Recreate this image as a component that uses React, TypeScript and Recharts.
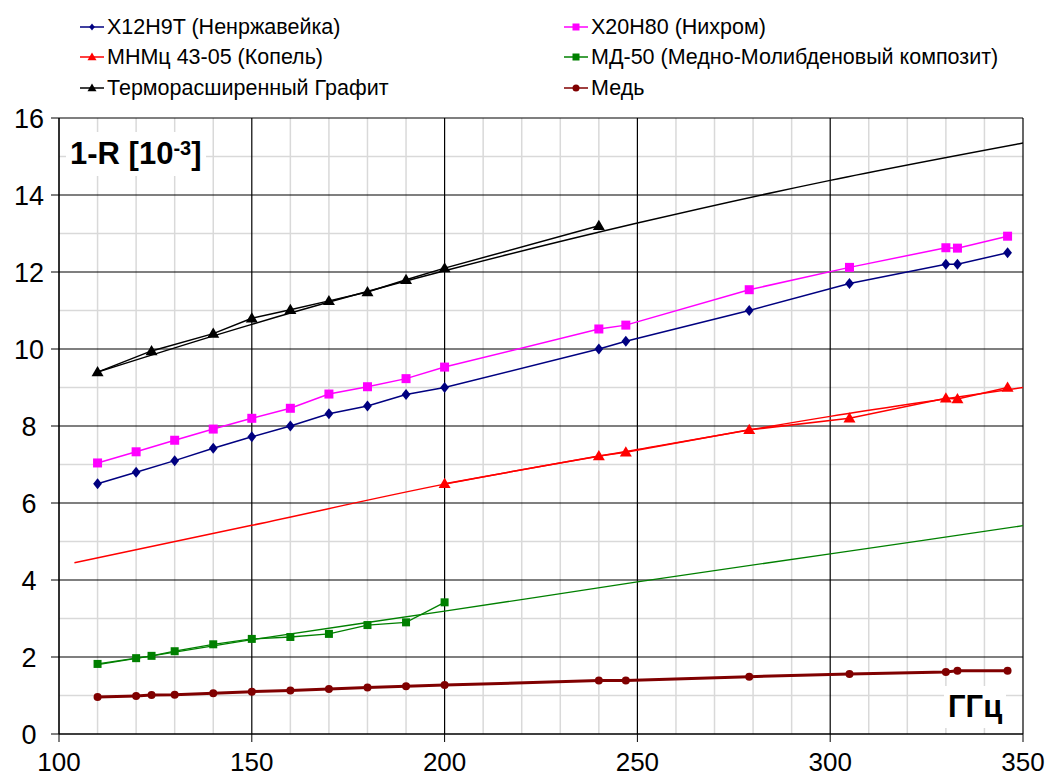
import { LineChart, Line, XAxis, YAxis, CartesianGrid } from "recharts";

// частоты, ГГц
const freqSteel = [110, 120, 130, 140, 150, 160, 170, 180, 190, 200, 240, 247, 279, 305, 330, 333, 346];
const valSteel = [6.5, 6.8, 7.1, 7.42, 7.72, 8.0, 8.32, 8.52, 8.82, 9.0, 10.0, 10.2, 11.0, 11.7, 12.2, 12.2, 12.5];
const valNichrome = [7.04, 7.33, 7.63, 7.92, 8.2, 8.46, 8.83, 9.02, 9.23, 9.53, 10.52, 10.62, 11.54, 12.12, 12.63, 12.62, 12.93];

const freqKopel = [200, 240, 247, 279, 305, 330, 333, 346];
const valKopel = [6.5, 7.22, 7.32, 7.9, 8.2, 8.72, 8.7, 9.0];
const freqKopelTrend = [104, 150, 200, 250, 300, 350];
const valKopelTrend = [4.45, 5.42, 6.49, 7.39, 8.25, 9.0];

const freqGraphite = [110, 124, 140, 150, 160, 170, 180, 190, 200, 240];
const valGraphite = [9.4, 9.95, 10.4, 10.8, 11.02, 11.25, 11.48, 11.8, 12.1, 13.2];
const freqGraphiteTrend = [110, 150, 200, 250, 300, 350];
const valGraphiteTrend = [9.4, 10.64, 12.03, 13.27, 14.38, 15.35];

const freqMd = [110, 120, 124, 130, 140, 150, 160, 170, 180, 190, 200];
const valMd = [1.82, 1.97, 2.03, 2.15, 2.33, 2.47, 2.52, 2.6, 2.83, 2.9, 3.42];
const freqMdTrend = [110, 150, 200, 250, 300, 350];
const valMdTrend = [1.8, 2.45, 3.19, 3.95, 4.68, 5.41];

const freqCopper = [110, 120, 124, 130, 140, 150, 160, 170, 180, 190, 200, 240, 247, 279, 305, 330, 333, 346];
const valCopper = [0.96, 0.99, 1.01, 1.02, 1.06, 1.1, 1.13, 1.17, 1.21, 1.24, 1.27, 1.39, 1.39, 1.49, 1.56, 1.61, 1.64, 1.64];

const xTicks = [100, 150, 200, 250, 300, 350];
const yTicks = [0, 2, 4, 6, 8, 10, 12, 14, 16];
const xMinor = [110, 120, 130, 140, 160, 170, 180, 190, 210, 220, 230, 240, 260, 270, 280, 290, 310, 320, 330, 340];
const yMinor = [1, 3, 5, 7, 9, 11, 13, 15];

const zip = (xs: number[], ys: number[]) => xs.map((x, i) => ({ x, y: ys[i] }));

const FONT = '"Liberation Sans", Arial, sans-serif';

const Diamond = ({ cx, cy, color, r = 5.5 }: any) => (
  <path d={`M${cx},${cy - r}L${cx + r * 0.8},${cy}L${cx},${cy + r}L${cx - r * 0.8},${cy}Z`} fill={color} />
);
const Square = ({ cx, cy, color, r = 4.5 }: any) => (
  <rect x={cx - r} y={cy - r} width={r * 2} height={r * 2} fill={color} />
);
const Triangle = ({ cx, cy, color, r = 6 }: any) => (
  <path d={`M${cx},${cy - r}L${cx + r},${cy + r * 0.7}L${cx - r},${cy + r * 0.7}Z`} fill={color} />
);
const Circle = ({ cx, cy, color, r = 4 }: any) => <circle cx={cx} cy={cy} r={r} fill={color} />;

const dotOf = (Shape: any, color: string, r?: number) => (p: any) =>
  <Shape key={p.index} cx={p.cx} cy={p.cy} color={color} r={r} />;

const legendItems = [
  { name: "X12H9T (Ненржавейка)", color: "#000080", Shape: Diamond },
  { name: "X20H80 (Нихром)", color: "#ff00ff", Shape: Square },
  { name: "МНМц 43-05 (Копель)", color: "#ff0000", Shape: Triangle },
  { name: "МД-50 (Медно-Молибденовый композит)", color: "#008000", Shape: Square },
  { name: "Терморасширенный Графит", color: "#000000", Shape: Triangle },
  { name: "Медь", color: "#800000", Shape: Circle },
];

const YTick = ({ x, y, payload }: any) => (
  <text x={x - 20} y={y} dy="0.36em" textAnchor="middle" fontSize={27} fill="#000" fontFamily={FONT}>
    {payload.value}
  </text>
);

export default function App() {
  return (
    <div style={{ position: "absolute", left: 0, top: 0, width: 1047, height: 778, background: "#fff", fontFamily: FONT }}>
      {/* легенда */}
      {legendItems.map((it, i) => {
        const col = i % 2;
        const row = Math.floor(i / 2);
        const left = col === 0 ? 79 : 563;
        const top = [27, 57, 88][row];
        return (
          <div key={it.name} style={{ position: "absolute", left, top: top - 12, height: 24, display: "flex", alignItems: "center", whiteSpace: "nowrap" }}>
            <svg width={26} height={24}>
              <line x1={1} y1={12} x2={25} y2={12} stroke={it.color} strokeWidth={1.5} />
              <it.Shape cx={13} cy={12} color={it.color} r={it.Shape === Triangle ? 4.5 : 3.5} />
            </svg>
            <span style={{ fontSize: 21.5, color: "#000", marginLeft: 2 }}>{it.name}</span>
          </div>
        );
      })}

      <LineChart width={1047} height={778} margin={{ top: 118, right: 24, bottom: 4, left: 9 }}>
        <CartesianGrid stroke="#d9d9d9" strokeWidth={1.5} verticalValues={xMinor} horizontalValues={yMinor} />
        <CartesianGrid stroke="#000" strokeWidth={1.2} verticalValues={xTicks} horizontalValues={yTicks} />
        <XAxis
          dataKey="x"
          type="number"
          domain={[100, 350]}
          ticks={xTicks}
          allowDataOverflow
          height={40}
          tickSize={8}
          tickMargin={11}
          stroke="#000"
          tick={{ fontSize: 26, fill: "#000", fontFamily: FONT }}
        />
        <YAxis
          type="number"
          domain={[0, 16]}
          ticks={yTicks}
          width={50}
          tickSize={8}
          stroke="#000"
          tick={<YTick />}
        />

        {/* линии тренда */}
        <Line data={zip(freqGraphiteTrend, valGraphiteTrend)} dataKey="y" type="monotone" stroke="#000" strokeWidth={1.5} dot={false} isAnimationActive={false} />
        <Line data={zip(freqKopelTrend, valKopelTrend)} dataKey="y" type="monotone" stroke="#ff0000" strokeWidth={1.5} dot={false} isAnimationActive={false} />
        <Line data={zip(freqMdTrend, valMdTrend)} dataKey="y" type="monotone" stroke="#008000" strokeWidth={1.3} dot={false} isAnimationActive={false} />

        {/* измерения */}
        <Line data={zip(freqSteel, valSteel)} dataKey="y" stroke="#000080" strokeWidth={1.5} dot={dotOf(Diamond, "#000080")} isAnimationActive={false} />
        <Line data={zip(freqSteel, valNichrome)} dataKey="y" stroke="#ff00ff" strokeWidth={1.5} dot={dotOf(Square, "#ff00ff")} isAnimationActive={false} />
        <Line data={zip(freqKopel, valKopel)} dataKey="y" stroke="#ff0000" strokeWidth={1.5} dot={dotOf(Triangle, "#ff0000")} isAnimationActive={false} />
        <Line data={zip(freqGraphite, valGraphite)} dataKey="y" stroke="#000" strokeWidth={1.5} dot={dotOf(Triangle, "#000")} isAnimationActive={false} />
        <Line data={zip(freqMd, valMd)} dataKey="y" stroke="#008000" strokeWidth={1.3} dot={dotOf(Square, "#008000", 4)} isAnimationActive={false} />
        <Line data={zip(freqCopper, valCopper)} dataKey="y" stroke="#800000" strokeWidth={3} dot={dotOf(Circle, "#800000")} isAnimationActive={false} />
      </LineChart>

      {/* подписи осей */}
      <div style={{ position: "absolute", left: 66, top: 132, padding: "2px 4px", background: "#fff", fontWeight: "bold", fontSize: 31, lineHeight: "40px", color: "#000" }}>
        1-R [10<sup style={{ fontSize: 20, verticalAlign: "top", lineHeight: "28px" }}>-3</sup>]
      </div>
      <div style={{ position: "absolute", left: 944, top: 686, padding: "0 4px", background: "#fff", fontWeight: "bold", fontSize: 31, lineHeight: "42px", color: "#000" }}>
        ГГц
      </div>
    </div>
  );
}
